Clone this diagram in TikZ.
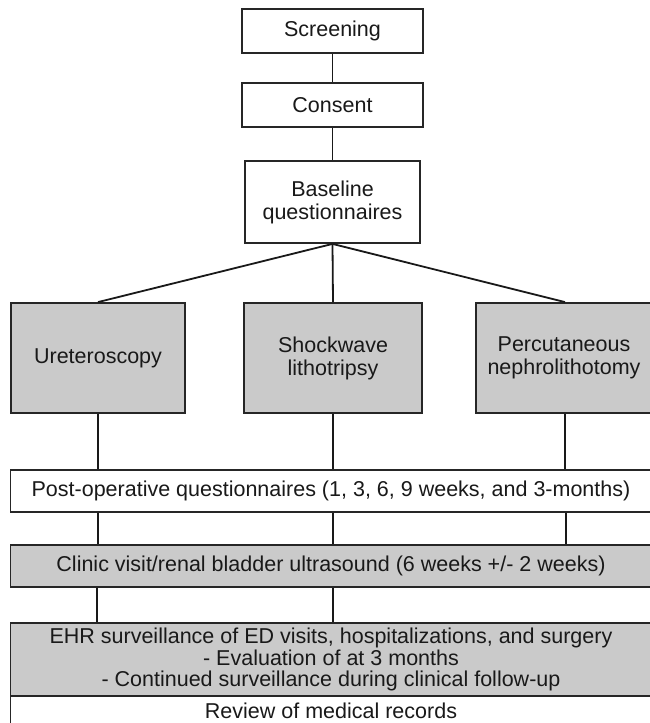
\documentclass[tikz,border=0pt]{standalone}
\usepackage{fontspec}
\setmainfont{Liberation Sans}
\definecolor{boxgray}{RGB}{202,202,202}
\begin{document}
\begin{tikzpicture}[x=1pt,y=-1pt,
  box/.style={draw=black!85, line width=1.8pt, align=center, inner sep=0pt,
    font=\fontsize{21.5}{23}\selectfont, text=black!90},
  gbox/.style={box, fill=boxgray},
  conn/.style={draw=black!90, line width=1.8pt}]
\useasboundingbox (0,0) rectangle (649,723);
\fill[white] (0,0) rectangle (649,723);
\node[box, minimum width=181, minimum height=44] (scr) at (332.5,31) {Screening};
\node[box, minimum width=181, minimum height=44] (con) at (332.5,105) {Consent};
\node[box, minimum width=175, minimum height=82] (base) at (332.5,202) {Baseline\\questionnaires};
\node[gbox, minimum width=174, minimum height=110] (uret) at (98,358) {Ureteroscopy};
\node[gbox, minimum width=178, minimum height=110] (shock) at (333,358) {Shockwave\\lithotripsy};
\node[gbox, minimum width=176, minimum height=110] (perc) at (564,358) {Percutaneous\\nephrolithotomy};
\node[box, minimum width=641, minimum height=42] (post) at (331,491) {Post-operative questionnaires (1, 3, 6, 9 weeks, and 3-months)};
\node[gbox, minimum width=641, minimum height=42] (clin) at (331,566) {Clinic visit/renal bladder ultrasound (6 weeks +/- 2 weeks)};
\node[gbox, minimum width=641, minimum height=73, font=\fontsize{21.5}{21.5}\selectfont] (ehr) at (331,659.5) {EHR surveillance of ED visits, hospitalizations, and surgery\\- Evaluation of at 3 months\\- Continued surveillance during clinical follow-up};
\node[box, minimum width=641, minimum height=30] (rev) at (331,711) {Review of medical records};
\draw[conn] (scr) -- (con);
\draw[conn] (con) -- (base);
\draw[conn] (base.south) -- (uret.north);
\draw[conn] (base.south) -- (shock.north);
\draw[conn] (base.south) -- ([xshift=1pt]perc.north);
\draw[conn] (uret.south) -- (uret.south |- post.north);
\draw[conn] (shock.south) -- (shock.south |- post.north);
\draw[conn] ([xshift=1pt]perc.south) -- ([xshift=1pt]perc.south |- post.north);
\draw[conn] (uret.south |- post.south) -- (uret.south |- clin.north);
\draw[conn] (shock.south |- post.south) -- (shock.south |- clin.north);
\draw[conn] ([xshift=2pt]perc.south |- post.south) -- ([xshift=2pt]perc.south |- clin.north);
\draw[conn] ([xshift=-1pt]uret.south |- clin.south) -- ([xshift=-1pt]uret.south |- ehr.north);
\draw[conn] (shock.south |- clin.south) -- (shock.south |- ehr.north);
\end{tikzpicture}
\end{document}
